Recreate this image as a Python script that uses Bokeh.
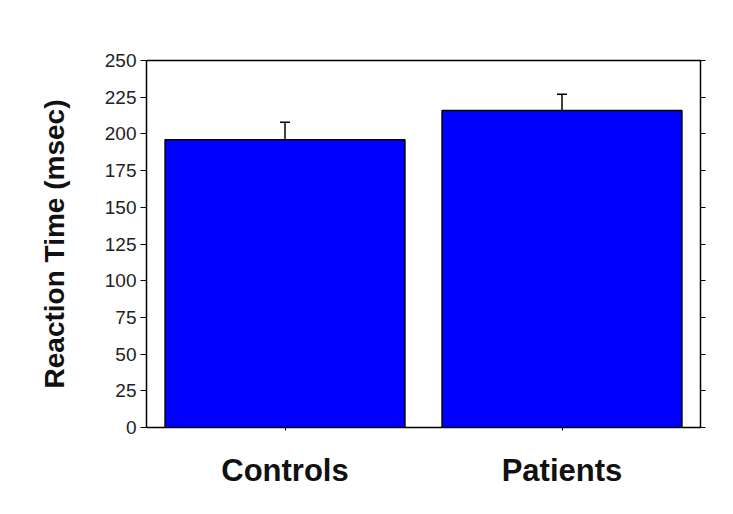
from bokeh.plotting import figure
from bokeh.models import ColumnDataSource, LinearAxis, Whisker, TeeHead, FixedTicker, Range1d
from bokeh.embed import file_html
from bokeh.resources import INLINE

groups = ["Controls", "Patients"]
means = [196, 216]
err_top = [208, 227]
y_ticks = [0, 25, 50, 75, 100, 125, 150, 175, 200, 225, 250]

xpos = [0.5, 1.5]
src = ColumnDataSource(dict(x=xpos, top=means, upper=err_top, base=means))

p = figure(width=720, height=500, output_backend="svg", toolbar_location=None,
           x_range=Range1d(0, 2), y_range=Range1d(0, 250),
           min_border_left=146, min_border_right=20, min_border_top=60, min_border_bottom=73)
p.background_fill_color = "white"
p.border_fill_color = "white"
p.grid.visible = False
p.outline_line_color = "black"
p.outline_line_width = 1.5

p.vbar(x="x", top="top", width=0.866, source=src, fill_color="#0000FF", line_color="black", line_width=1.5)
w = Whisker(source=src, base="x", upper="upper", lower="base",
            upper_head=TeeHead(size=10, line_color="black", line_width=1.5), lower_head=None,
            line_color="black", line_width=1.5)
p.add_layout(w)

ya = p.yaxis[0]
ya.ticker = FixedTicker(ticks=y_ticks)
ya.minor_tick_line_color = None
ya.major_tick_in = 0
ya.major_tick_out = 6
ya.axis_line_color = "black"
ya.major_label_text_font = "Liberation Sans"
ya.major_label_text_font_size = "19px"
ya.major_label_text_color = "#222222"
ya.major_label_standoff = 4
ya.axis_label = "Reaction Time (msec)"
ya.axis_label_text_font = "Liberation Sans"
ya.axis_label_text_font_style = "bold"
ya.axis_label_text_font_size = "28px"
ya.axis_label_text_color = "#111111"
ya.axis_label_standoff = 32

ra = LinearAxis(ticker=FixedTicker(ticks=y_ticks))
ra.major_label_text_font_size = "0px"
ra.major_label_text_color = None
ra.minor_tick_line_color = None
ra.major_tick_in = 0
ra.major_tick_out = 5
p.add_layout(ra, "right")

xa = p.xaxis[0]
xa.ticker = FixedTicker(ticks=xpos)
xa.major_label_overrides = {0.5: groups[0], 1.5: groups[1]}
xa.minor_tick_line_color = None
xa.major_tick_in = 0
xa.major_tick_out = 3
xa.major_label_text_font = "Liberation Sans"
xa.major_label_text_font_style = "bold"
xa.major_label_text_font_size = "31px"
xa.major_label_text_color = "#111111"
xa.major_label_standoff = 22

open("out.html", "w").write(file_html(p, INLINE))
